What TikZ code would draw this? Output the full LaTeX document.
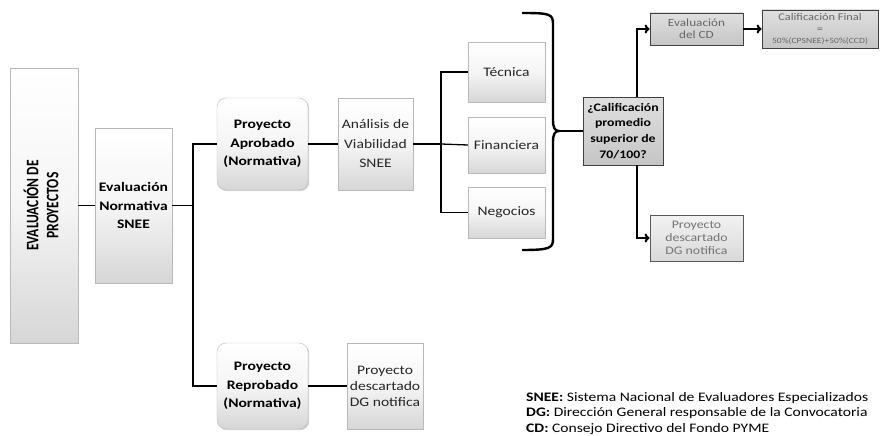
\documentclass[tikz,border=0pt]{standalone}
\usepackage{fontspec}
\setmainfont{Carlito}[FakeStretch=1.2]
\newfontfamily\rotfont{Carlito}
\usetikzlibrary{shadows,arrows.meta}
\begin{document}
\begin{tikzpicture}[x=1pt,y=-1pt,
  box/.style={draw=gray!55, top color=white, bottom color=gray!32, middle color=gray!8,
    drop shadow={opacity=0.35,shadow xshift=1.2pt,shadow yshift=-1.2pt},
    inner sep=1pt, align=center, font=\bfseries\fontsize{13}{18.5}\selectfont},
  rbox/.style={box, rounded corners=9pt},
  plainbox/.style={box, font=\fontsize{13}{19.5}\selectfont, text=black!85},
  dbox/.style={draw=black!75, line width=0.9pt, top color=gray!25, bottom color=gray!45,
    drop shadow={opacity=0.3,shadow xshift=1pt,shadow yshift=-1pt},
    inner sep=0.5pt, align=center},
  conn/.style={line width=1.3pt},
  arr/.style={line width=2.2pt, -{To[length=5pt,width=9pt]}},
  brace/.style={line width=2.4pt}
]
\useasboundingbox (0,0) rectangle (883,436);
% nodes
\node[box, minimum width=68pt, minimum height=275pt] (ep) at (44,205.5) {};
\node[inner sep=0pt] (ept) at (ep.center) {\rotatebox{90}{\scalebox{1}[1.3]{\rotfont\bfseries\fontsize{13.5}{15.5}\selectfont\begin{tabular}{@{}c@{}}EVALUACIÓN DE\\PROYECTOS\end{tabular}}}};
\node[box, minimum width=77pt, minimum height=155pt] (en) at (133.5,205.5) {Evaluación\\Normativa\\SNEE};
\node[rbox, minimum width=91pt, minimum height=92pt] (pa) at (262.5,144) {Proyecto\\Aprobado\\(Normativa)};
\node[plainbox, minimum width=75pt, minimum height=92pt] (av) at (375.5,144) {Análisis de\\Viabilidad\\SNEE};
\node[plainbox, minimum width=77pt, minimum height=60pt] (tec) at (506.5,72) {Técnica};
\node[plainbox, minimum width=77pt, minimum height=56pt] (fin) at (506.5,145) {Financiera};
\node[plainbox, minimum width=77pt, minimum height=51pt] (neg) at (506.5,212.5) {Negocios};
\node[dbox, minimum width=80pt, minimum height=68pt, font=\bfseries\fontsize{11.5}{15.8}\selectfont] (q) at (623,131) {¿Calificación\\promedio\\superior de\\70/100?};
\node[dbox, minimum width=93pt, minimum height=32pt, font=\fontsize{11}{12}\selectfont, text=black!60] (cd) at (696.5,29) {Evaluación\\del CD};
\node[dbox, minimum width=116pt, minimum height=38pt, font=\fontsize{10.3}{11.5}\selectfont, text=black!60] (cf) at (820,29) {Calificación Final\\=\\{\fontsize{8}{9}\selectfont 50\%(CPSNEE)+50\%(CCD)}};
\node[dbox, draw=black!65, top color=gray!10, bottom color=gray!30, minimum width=93pt, minimum height=46pt, font=\fontsize{11.5}{13}\selectfont, text=black!55] (pd) at (696.5,238) {Proyecto\\descartado\\DG notifica};
\node[rbox, minimum width=91pt, minimum height=86pt] (pr) at (262.5,386) {Proyecto\\Reprobado\\(Normativa)};
\node[plainbox, minimum width=76pt, minimum height=86pt, font=\fontsize{13}{16}\selectfont] (pd2) at (385,386) {Proyecto\\descartado\\DG notifica};
% legend
\node[anchor=north west, align=left, inner sep=0pt, font=\fontsize{13}{15.5}\selectfont] (leg) at (526,392)
 {\textbf{SNEE:} Sistema Nacional de Evaluadores Especializados\\
  \textbf{DG:} Dirección General responsable de la Convocatoria\\
  \textbf{CD:} Consejo Directivo del Fondo PYME};
% connectors
\coordinate (j1) at (193,205.5);
\coordinate (j2) at (441,144);
\draw[conn] (ep.east) -- (en.west);
\draw[conn] (en.east) -- (j1);
\draw[conn] (pa.west) -| (j1) |- (pr.west);
\draw[conn] (pa.east) -- (av.west);
\draw[conn] (av.east) -- (j2);
\draw[conn] (tec.west) -| (j2) |- (neg.west);
\draw[conn] (j2) -- (fin.west);
\draw[conn] (pr.east) -- (pd2.west);
% brace
\coordinate (bt) at (559,131);
\draw[brace] (522,13) .. controls (550,13) and (553,14) .. (553,24) -- (553,120)
  .. controls (553,128) and (555,131) .. (bt)
  .. controls (555,131) and (553,134) .. (553,142) -- (553,239)
  .. controls (553,248) and (550,250) .. (522,250);
\draw[conn, line width=1.6pt] (bt) -- (q.west);
% arrows
\coordinate (qa) at ([xshift=14pt]q.north);
\coordinate (qb) at ([xshift=14pt]q.south);
\draw[arr] (qa) |- (cd.west);
\draw[arr] (cd.east) -- (cf.west);
\draw[arr] (qb) |- (pd.west);
\end{tikzpicture}
\end{document}
